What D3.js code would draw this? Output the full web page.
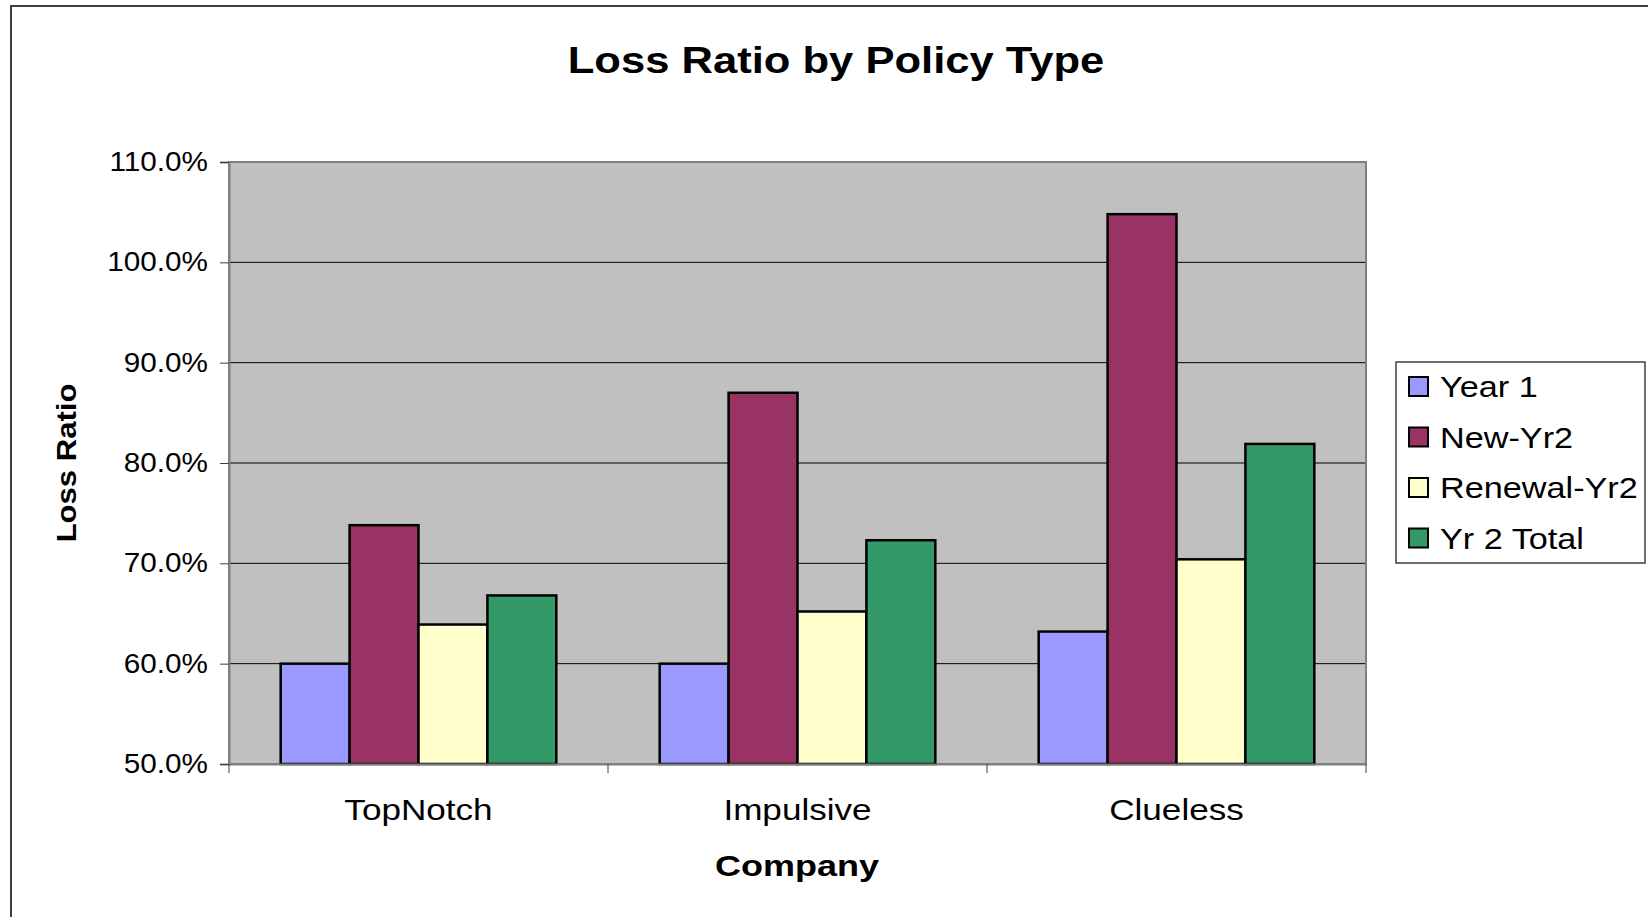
<!DOCTYPE html>
<html>
<head>
<meta charset="utf-8">
<script src="https://cdn.jsdelivr.net/npm/d3@7"></script>
<style>
  body { margin: 0; background: #fff; }
  text { font-family: "Liberation Sans", Arial, sans-serif; fill: #000; }
</style>
</head>
<body>
<div id="chart"></div>
<script>
// data
const companies = ["TopNotch", "Impulsive", "Clueless"];
const seriesNames = ["Year 1", "New-Yr2", "Renewal-Yr2", "Yr 2 Total"];
const seriesColors = ["#9999FF", "#993366", "#FFFFCC", "#339966"];
const year1 = [60.0, 60.0, 63.2];
const newYr2 = [73.8, 87.0, 104.8];
const renewalYr2 = [63.9, 65.2, 70.4];
const yr2Total = [66.8, 72.3, 81.9];
const yTicks = [50, 60, 70, 80, 90, 100, 110];

const values = [year1, newYr2, renewalYr2, yr2Total];

const W = 1648, H = 917;
const plot = {left: 229, right: 1366, top: 162, bottom: 764};

// the original text is drawn a bit wide, so stretch it horizontally
const stretch = (sel, k) => sel.each(function() {
    const len = this.getComputedTextLength();
    d3.select(this)
        .attr('textLength', len * k)
        .attr('lengthAdjust', 'spacingAndGlyphs');
});

const svg = d3.select('#chart').append('svg')
    .attr('width', W)
    .attr('height', H);

// chart outer frame
svg.append('rect')
    .attr('x', 11).attr('y', 6)
    .attr('width', W).attr('height', H)
    .attr('fill', '#fff')
    .attr('stroke', '#404040')
    .attr('stroke-width', 2);

const x0 = d3.scaleBand()
    .domain(companies)
    .range([plot.left, plot.right]);

const x1 = d3.scaleBand()
    .domain(seriesNames)
    .range([0, x0.bandwidth()])
    .paddingInner(0)
    .paddingOuter(0.75);

const y = d3.scaleLinear()
    .domain([50, 110])
    .range([plot.bottom, plot.top]);

// plot background
svg.append('rect')
    .attr('x', plot.left).attr('y', plot.top)
    .attr('width', plot.right - plot.left)
    .attr('height', plot.bottom - plot.top)
    .attr('fill', '#C0C0C0');

// gridlines
svg.append('g')
    .selectAll('line')
    .data(yTicks.slice(1, -1))
    .join('line')
    .attr('x1', plot.left).attr('x2', plot.right)
    .attr('y1', d => y(d)).attr('y2', d => y(d))
    .attr('stroke', '#000')
    .attr('stroke-width', 1);

// plot frame
svg.append('rect')
    .attr('x', plot.left).attr('y', plot.top)
    .attr('width', plot.right - plot.left)
    .attr('height', plot.bottom - plot.top)
    .attr('fill', 'none')
    .attr('stroke', '#808080')
    .attr('stroke-width', 2);

// bars
const rows = companies.map((c, i) => ({
    company: c,
    bars: seriesNames.map((s, j) => ({series: s, value: values[j][i], color: seriesColors[j]}))
}));

svg.append('g')
    .selectAll('g')
    .data(rows)
    .join('g')
    .attr('transform', d => `translate(${x0(d.company)},0)`)
    .selectAll('rect')
    .data(d => d.bars)
    .join('rect')
    .attr('x', d => x1(d.series))
    .attr('width', x1.bandwidth())
    .attr('y', d => y(d.value))
    .attr('height', d => y(50) - y(d.value))
    .attr('fill', d => d.color)
    .attr('stroke', '#000')
    .attr('stroke-width', 2.5);

// y axis
const yAxis = svg.append('g')
    .attr('transform', `translate(${plot.left},0)`)
    .call(d3.axisLeft(y)
        .tickValues(yTicks)
        .tickSize(9)
        .tickPadding(12)
        .tickFormat(d => d.toFixed(1) + '%'));
yAxis.select('.domain').attr('stroke', '#808080').attr('stroke-width', 2);
yAxis.selectAll('.tick line').attr('stroke', '#404040');
yAxis.selectAll('.tick text')
    .attr('font-size', 27)
    .attr('font-family', '"Liberation Sans", Arial, sans-serif')
    .attr('fill', '#000')
    .call(stretch, 1.1);

// x axis
const xAxis = svg.append('g')
    .attr('transform', `translate(0,${plot.bottom})`)
    .call(d3.axisBottom(x0).tickSize(0).tickPadding(35));
xAxis.select('.domain').attr('stroke', '#808080').attr('stroke-width', 2);
xAxis.selectAll('.tick text')
    .attr('font-size', 30)
    .attr('font-family', '"Liberation Sans", Arial, sans-serif')
    .attr('fill', '#000')
    .call(stretch, 1.17);

// category separators
svg.append('g')
    .selectAll('line')
    .data(companies.map(c => x0(c)).concat([plot.right]))
    .join('line')
    .attr('x1', d => d).attr('x2', d => d)
    .attr('y1', plot.bottom).attr('y2', plot.bottom + 9)
    .attr('stroke', '#404040')
    .attr('stroke-width', 1);

// titles
svg.append('text')
    .attr('x', 836).attr('y', 73)
    .attr('text-anchor', 'middle')
    .attr('font-size', 36)
    .attr('font-weight', 'bold')
    .text('Loss Ratio by Policy Type')
    .call(stretch, 1.21);

svg.append('text')
    .attr('x', 797).attr('y', 876)
    .attr('text-anchor', 'middle')
    .attr('font-size', 30)
    .attr('font-weight', 'bold')
    .text('Company')
    .call(stretch, 1.2);

svg.append('text')
    .attr('transform', `translate(76,${(plot.top + plot.bottom) / 2}) rotate(-90)`)
    .attr('text-anchor', 'middle')
    .attr('font-size', 27)
    .attr('font-weight', 'bold')
    .text('Loss Ratio')
    .call(stretch, 1.15);

// legend
const legend = svg.append('g');
legend.append('rect')
    .attr('x', 1396).attr('y', 362)
    .attr('width', 249).attr('height', 201)
    .attr('fill', '#fff')
    .attr('stroke', '#404040')
    .attr('stroke-width', 1.5);

const items = legend.selectAll('g')
    .data(seriesNames)
    .join('g')
    .attr('transform', (d, i) => `translate(1409,${386 + i * 50.5})`);

items.append('rect')
    .attr('x', 0).attr('y', -9)
    .attr('width', 19).attr('height', 19)
    .attr('fill', (d, i) => seriesColors[i])
    .attr('stroke', '#000')
    .attr('stroke-width', 2);

items.append('text')
    .attr('x', 31).attr('y', 11)
    .attr('font-size', 29)
    .text(d => d)
    .call(stretch, 1.18);
</script>
</body>
</html>
